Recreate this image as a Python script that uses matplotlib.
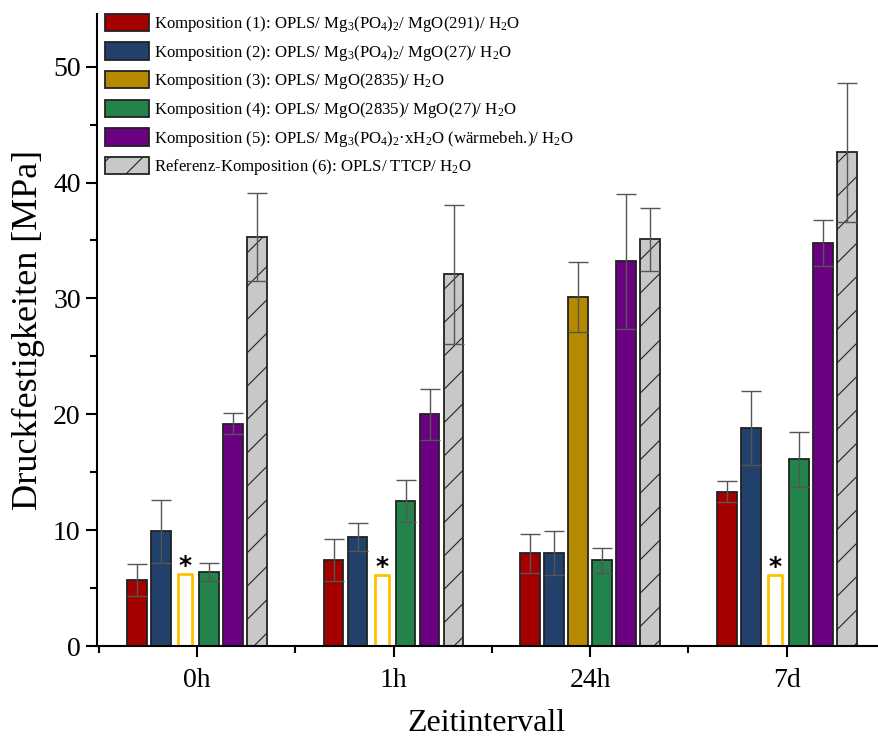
import matplotlib.pyplot as plt
import numpy as np
from matplotlib.ticker import MultipleLocator

plt.rcParams["font.family"] = ["Liberation Serif", "DejaVu Serif"]
plt.rcParams["mathtext.fontset"] = "custom"
plt.rcParams["mathtext.rm"] = "Liberation Serif"
plt.rcParams["mathtext.it"] = "Liberation Serif:italic"
plt.rcParams["hatch.color"] = "#3a3a3a"
plt.rcParams["hatch.linewidth"] = 0.8

times = ["0h", "1h", "24h", "7d"]

labels = [
    "Komposition (1): OPLS/ Mg$_3$(PO$_4$)$_2$/ MgO(291)/ H$_2$O",
    "Komposition (2): OPLS/ Mg$_3$(PO$_4$)$_2$/ MgO(27)/ H$_2$O",
    "Komposition (3): OPLS/ MgO(2835)/ H$_2$O",
    "Komposition (4): OPLS/ MgO(2835)/ MgO(27)/ H$_2$O",
    "Komposition (5): OPLS/ Mg$_3$(PO$_4$)$_2$\u00b7xH$_2$O (wärmebeh.)/ H$_2$O",
    "Referenz-Komposition (6): OPLS/ TTCP/ H$_2$O",
]

# mean compressive strength per composition [MPa], one value per time point
k1 = [5.7, 7.4, 8.0, 13.3]
k2 = [9.9, 9.4, 8.0, 18.8]
k3 = [6.2, 6.1, 30.1, 6.1]
k4 = [6.4, 12.5, 7.4, 16.1]
k5 = [19.2, 20.0, 33.2, 34.8]
k6 = [35.3, 32.1, 35.1, 42.6]

e1 = [1.4, 1.8, 1.7, 0.9]
e2 = [2.7, 1.2, 1.9, 3.2]
e3 = [0.0, 0.0, 3.0, 0.0]
e4 = [0.8, 1.8, 1.1, 2.4]
e5 = [0.9, 2.2, 5.8, 2.0]
e6 = [3.8, 6.0, 2.7, 6.0]

# composition 3 was not measurable at these time points (marked with *)
k3_missing = [True, True, False, True]

colors = ["#A50000", "#21416B", "#B58A00", "#22844A", "#6B0083", "#C8C8C8"]

values = [k1, k2, k3, k4, k5, k6]
errors = [e1, e2, e3, e4, e5, e6]

fig = plt.figure(figsize=(8.79, 7.43), dpi=100)
ax = fig.add_axes([0.110, 0.1305, 0.888, 0.85])

x = np.arange(len(times))
pitch = 0.122
width = 0.10

for i, (vals, errs) in enumerate(zip(values, errors)):
    pos = x + (i - 2.5) * pitch
    if i == 2:
        vals = np.array(vals)
        miss = np.array(k3_missing)
        ax.bar(pos[~miss], vals[~miss], width=width, color=colors[i],
               edgecolor="#222222", linewidth=1.3, label=labels[i], zorder=2)
        ax.errorbar(pos[~miss], vals[~miss], yerr=np.array(errs)[~miss], fmt="none",
                    ecolor="#555555", elinewidth=1.0, capsize=7, capthick=1.0, zorder=3)
        for p, v in zip(pos[miss], vals[miss]):
            ax.plot([p - 0.036, p - 0.036, p + 0.036, p + 0.036], [0.3, v, v, 0.3],
                    color="#FFC000", lw=2.0, zorder=2)
            ax.text(p, v - 0.3, "*", ha="center", va="bottom", fontsize=18,
                    fontweight="bold", family="DejaVu Sans", zorder=4)
        continue
    hatch = "/" if i == 5 else None
    ax.bar(pos, vals, width=width, color=colors[i], edgecolor="#222222",
           linewidth=1.3, hatch=hatch, label=labels[i], zorder=2)
    ax.errorbar(pos, vals, yerr=errs, fmt="none", ecolor="#555555",
                elinewidth=1.0, capsize=7, capthick=1.0, zorder=3)

ax.set_xlim(-0.51, 3.46)
ax.set_ylim(0, 54.5)
ax.set_xticks(x)
ax.set_xticklabels(times)
ax.xaxis.set_minor_locator(MultipleLocator(0.5))
ax.yaxis.set_major_locator(MultipleLocator(10))
ax.yaxis.set_minor_locator(MultipleLocator(5))

for side in ["top", "right"]:
    ax.spines[side].set_visible(False)
for side in ["left", "bottom"]:
    ax.spines[side].set_linewidth(1.5)

ax.tick_params(axis="both", which="major", direction="out", length=8, width=1.5,
               labelsize=20)
ax.tick_params(axis="both", which="minor", direction="out", length=5, width=1.5)
ax.tick_params(axis="x", which="major", pad=8)

ax.set_ylabel("Druckfestigkeiten [MPa]", fontsize=26, labelpad=6)
ax.set_xlabel("Zeitintervall", fontsize=23, labelpad=11)

ax.legend(loc="upper left", bbox_to_anchor=(-0.004, 1.02), fontsize=12.1, frameon=False,
          handlelength=2.6, handleheight=1.2, handletextpad=0.3, labelspacing=0.5,
          borderaxespad=0.3)

fig.savefig("out.png", dpi=100)
